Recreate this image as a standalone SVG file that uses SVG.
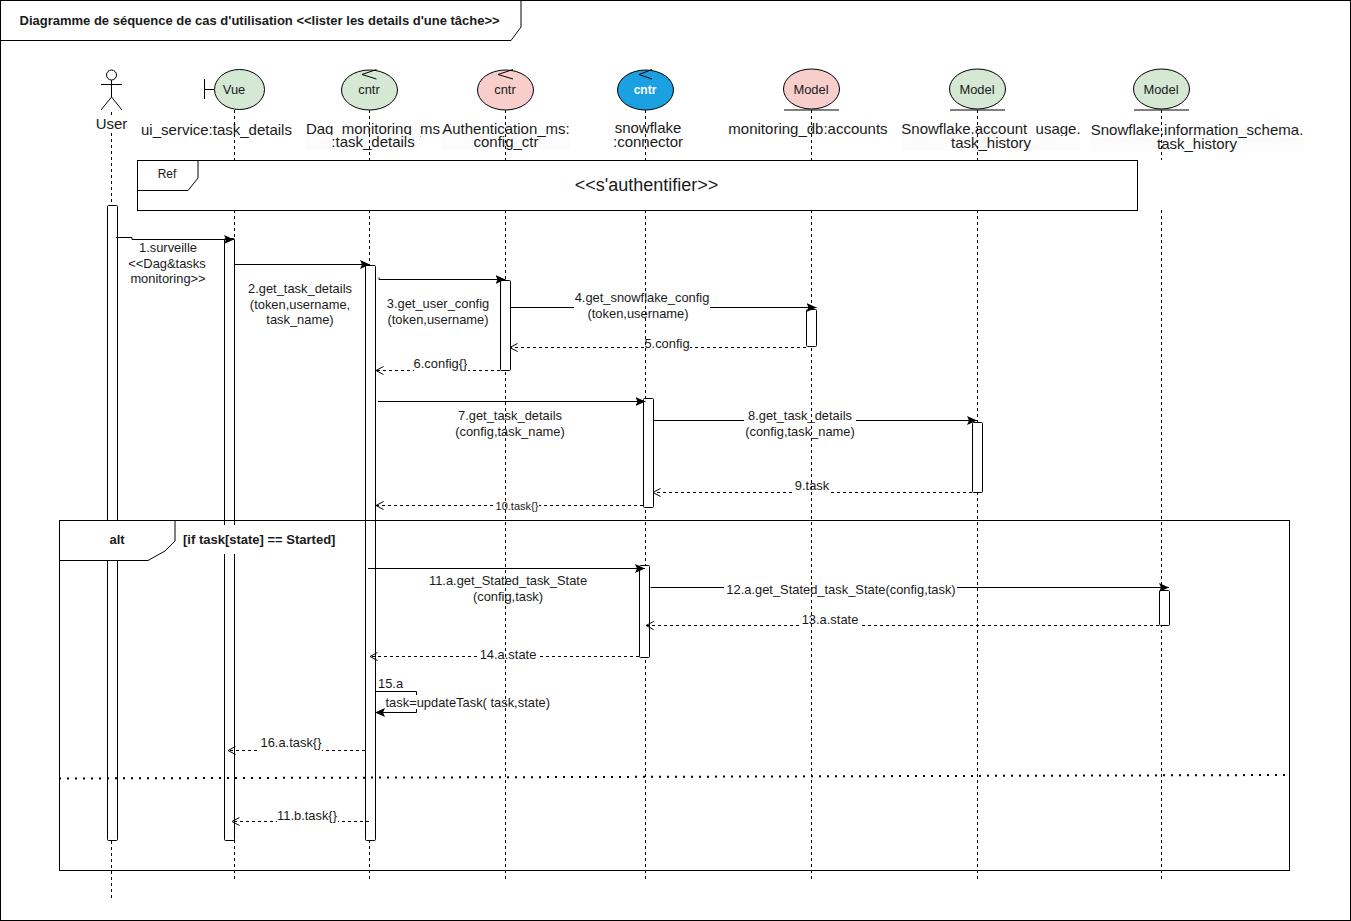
<svg xmlns="http://www.w3.org/2000/svg" width="1351" height="921" viewBox="0 0 1351 921">
<style>
text{font-family:"Liberation Sans",Arial,sans-serif;font-size:12.9px;fill:#1a1a1a}
.m{text-anchor:middle}
.h{font-size:15px}
.b{font-weight:bold;font-size:13px}
.ln{fill:none;stroke:#000;stroke-width:1}
.ll{fill:none;stroke:#000;stroke-width:1;stroke-dasharray:3 3}
.act{fill:#fff;stroke:#000;stroke-width:1}
.g{fill:#d5e8d4;stroke:#000}
.r{fill:#f8cecc;stroke:#000}
.bl{fill:#1ba1e2;stroke:#000}
.bg{fill:#fff}
.bh{fill:#fcfcfc}
.msg{fill:none;stroke:#000;stroke-width:1;marker-end:url(#sol)}
.ret{fill:none;stroke:#000;stroke-width:1;stroke-dasharray:3 3;marker-end:url(#opn)}
</style>
<defs>
<marker id="sol" markerWidth="11" markerHeight="10" refX="10" refY="5" orient="auto" markerUnits="userSpaceOnUse"><path d="M0 0.500L10 5L0 9.500L2 5Z" fill="#000"/></marker>
<marker id="opn" markerWidth="10" markerHeight="10" refX="8" refY="5" orient="auto" markerUnits="userSpaceOnUse"><path d="M0.500 1L8 5L0.500 9" fill="none" stroke="#000"/></marker>
</defs>
<rect x="0.500" y="0.500" width="1350" height="920" fill="#fff" stroke="#000"/>
<g id="title"><path d="M0.500 0.500H521V27L511 40.500H0.500Z" fill="#fff" stroke="#000"/><text class="b" x="19.500" y="24.500">Diagramme de séquence de cas d'utilisation &lt;&lt;lister les details d'une tâche&gt;&gt;</text></g>

<g id="node-vue"><path class="ln" d="M204.500 79V99M204.500 89.500H214"/><ellipse class="g" cx="239.500" cy="89.500" rx="25" ry="20"/><text class="m" x="234" y="94">Vue</text><text class="m h" x="216.500" y="135">ui_service:task_details</text></g>
<g id="node-dag"><ellipse class="g" cx="369.500" cy="90" rx="28" ry="20"/><path class="ln" d="M376.500 69.500L362 74.500L376.500 79"/><text class="m" x="369" y="94">cntr</text><text class="m h" x="373" y="133.500">Dag_monitoring_ms</text><rect class="bh" x="306" y="135" width="114" height="15"/><text class="m h" x="373" y="147">:task_details</text></g>
<g id="node-auth"><ellipse class="r" cx="505.500" cy="90" rx="28" ry="20"/><rect class="bh" x="442" y="135" width="129" height="15"/><path class="ln" d="M513 69.500L498 74.500L513 79"/><text class="m" x="505" y="94">cntr</text><text class="m h" x="506" y="133.500">Authentication_ms:</text><text class="m h" x="506" y="147">config_ctr</text></g>
<g id="node-snow"><ellipse class="bl" cx="645.500" cy="90" rx="28" ry="20"/><path class="ln" d="M652 69.500L639 74.500L652 79"/><text class="m" x="645" y="94" style="fill:#fff;font-weight:bold;font-size:12px">cntr</text><text class="m h" x="648" y="133">snowflake</text><text class="m h" x="648" y="147">:connector</text></g>
<g id="node-db"><ellipse class="r" cx="811.500" cy="89" rx="28" ry="20"/><path class="ln" d="M784 110H839"/><text class="m" x="811" y="94">Model</text><text class="m h" x="808" y="134">monitoring_db:accounts</text></g>
<g id="node-acct"><ellipse class="g" cx="977.500" cy="89" rx="28" ry="20"/><path class="ln" d="M950 110H1005"/><text class="m" x="977" y="94">Model</text><text class="m h" x="991" y="134">Snowflake.account_usage.</text><rect class="bh" x="901" y="136" width="179" height="15"/><text class="m h" x="991" y="148">task_history</text></g>
<g id="node-info"><ellipse class="g" cx="1161.500" cy="89" rx="28" ry="20"/><rect class="bh" x="1091" y="137" width="213" height="15"/><path class="ln" d="M1134 110H1189"/><text class="m" x="1161" y="94">Model</text><text class="m h" x="1197" y="135">Snowflake.information_schema.</text><text class="m h" x="1197" y="149">task_history</text></g>

<g id="frame-ref"><rect x="137.500" y="160.500" width="1000" height="50" fill="#fff" stroke="#000"/><path class="ln" d="M137.500 190.500H188L198 178V160.500"/><text class="m" x="167" y="178" style="font-size:12px">Ref</text><text class="m" x="646.500" y="190.500" style="font-size:18px">&lt;&lt;s'authentifier&gt;&gt;</text></g>

<g id="lifelines">
<path class="ll" d="M111.500 112V116M111.500 133V160V900M234.500 110V160M234.500 210V880M369.500 110V160M369.500 210V880M505.500 110V160M505.500 210V880M645.500 110V160M645.500 210V880M811.500 110V160M811.500 210V880M977.500 110V160M977.500 210V880M1161.500 110V160M1161.500 210V880"/>
</g>

<g id="node-user"><circle class="ln" cx="111.500" cy="75" r="5"/><path class="ln" d="M111.500 80V97M101 84.500H122M111.500 97L101 110M111.500 97L122 110"/><text class="m h" x="111.500" y="129">User</text></g>

<g id="activations">
<rect class="act" x="107.500" y="205.500" width="10" height="635" rx="1"/>
<rect class="act" x="224.500" y="238.500" width="10" height="602" rx="1"/>
<rect class="act" x="365.500" y="265.500" width="10" height="575" rx="1"/>
<rect class="act" x="500.500" y="280.500" width="10" height="90" rx="1"/>
<rect class="act" x="806.500" y="309.500" width="10" height="37" rx="1"/>
<rect class="act" x="643.500" y="398.500" width="10" height="109" rx="1"/>
<rect class="act" x="972.500" y="422.500" width="10" height="70" rx="1"/>
<rect class="act" x="639.500" y="565.500" width="10" height="92" rx="1"/>
<rect class="act" x="1159.500" y="590.500" width="10" height="35" rx="1"/>
</g>

<g id="frame-alt"><rect class="ln" x="59.500" y="520.500" width="1230" height="350"/><path d="M59.500 520.500H175V541L165 551L148 560.500H59.500Z" fill="#fff" stroke="#000"/><text class="m b" x="117" y="544">alt</text><rect class="bg" x="178" y="525" width="162" height="29"/><text class="b" x="183" y="544">[if task[state] == Started]</text>
<path d="M59 778.500L1287 775" fill="none" stroke="#000" stroke-width="2" stroke-dasharray="2 6"/></g>

<g id="connectors">
<path class="msg" d="M116 237.500H132V239.500H234"/>
<path class="msg" d="M234.500 264.500H370"/>
<path class="msg" d="M379 277.500V279.500H505.500"/>
<path class="msg" d="M510.500 307.500H816.500"/>
<path class="ret" d="M806 347.500H510"/>
<path class="ret" d="M500 370.500H376"/>
<path class="msg" d="M378 401.500H645.500"/>
<path class="msg" d="M653 420.500H977"/>
<path class="ret" d="M972 492.500H653"/>
<path class="ret" d="M643 505.500H376"/>
<path class="msg" d="M368 568.500H645"/>
<path class="msg" d="M650.500 587.500H1169"/>
<path class="ret" d="M1159 625.500H646"/>
<path class="ret" d="M639 656.500H370"/>
<path class="ln" d="M375 691.500H416.500V712.500"/>
<path class="msg" d="M416.500 712.500H375"/>
<path class="ret" d="M365 750.500H228"/>
<path class="ret" d="M369 821.500H232"/>
</g>

<g id="labels">
<text class="m" x="168" y="252">1.surveille</text><text class="m" x="167" y="268">&lt;&lt;Dag&amp;tasks</text><text class="m" x="168" y="283">monitoring&gt;&gt;</text>
<text class="m" x="300" y="293">2.get_task_details</text><text class="m" x="300" y="309">(token,username,</text><text class="m" x="300" y="324">task_name)</text>
<text class="m" x="438" y="308">3.get_user_config</text><text class="m" x="438" y="324">(token,username)</text>
<path class="bg" d="M574 291H645V322H574ZM646 291H710V322H646Z"/><text class="m" x="642" y="302">4.get_snowflake_config</text><text class="m" x="638" y="318">(token,username)</text>
<path class="bg" d="M644 337H645V352H644ZM646 337H690V352H646Z"/><text class="m" x="667" y="348">5.config</text>
<rect class="bg" x="414" y="357" width="54" height="15"/><text class="m" x="440.500" y="368">6.config{}</text>
<text class="m" x="510" y="420">7.get_task_details</text><text class="m" x="510" y="436">(config,task_name)</text>
<path class="bg" d="M744 408H811V438H744ZM812 408H856V438H812Z"/><text class="m" x="800" y="420">8.get_task_details</text><text class="m" x="800" y="436">(config,task_name)</text>
<path class="bg" d="M795 479H811V494H795ZM812 479H829V494H812Z"/><text class="m" x="812" y="490">9.task</text>
<path class="bg" d="M495 499H505V512H495ZM506 499H539V512H506Z"/><text class="m" x="517" y="510" style="font-size:11px">10.task{}</text>
<text class="m" x="508" y="585">11.a.get_Stated_task_State</text><text class="m" x="508" y="601">(config,task)</text>
<path class="bg" d="M724 582H811V597H724ZM812 582H957V597H812Z"/><text class="m" x="841" y="594">12.a.get_Stated_task_State(config,task)</text>
<path class="bg" d="M801 613H811V628H801ZM812 613H859V628H812Z"/><text class="m" x="830" y="624">13.a.state</text>
<path class="bg" d="M479 648H505V663H479ZM506 648H537V663H506Z"/><text class="m" x="508" y="659">14.a.state</text>
<text x="378" y="688">15.a</text>
<path class="bg" d="M385 695H505V709H385ZM506 695H552V709H506Z"/><text x="385.500" y="707">task=updateTask( task,state)</text>
<rect class="bg" x="260" y="736" width="62" height="15"/><text class="m" x="291" y="747">16.a.task{}</text>
<rect class="bg" x="277" y="809" width="61" height="15"/><text class="m" x="307" y="820">11.b.task{}</text>
</g>
</svg>
